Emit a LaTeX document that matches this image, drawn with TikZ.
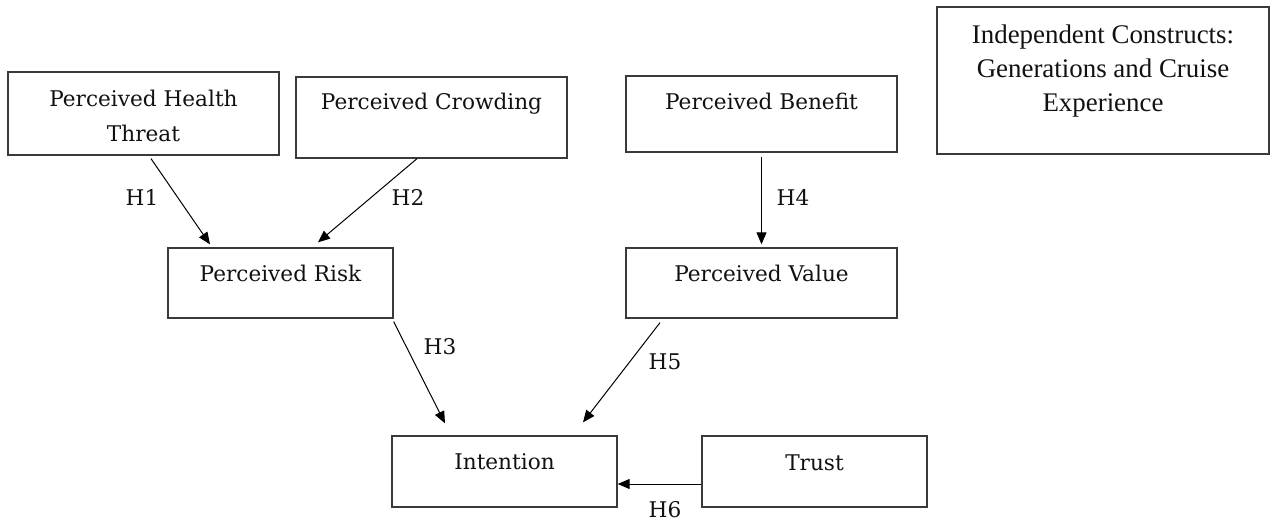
\documentclass[tikz,border=0pt]{standalone}
\usepackage{fontspec}
\setmainfont{DejaVu Serif}
\newfontfamily\timesfont{Liberation Serif}
\usetikzlibrary{arrows.meta}
\definecolor{boxgray}{HTML}{3A3A3A}
\definecolor{txt}{HTML}{111111}
\newcommand\bxt[4]{\parbox[c][#2][t]{#1}{\centering\rule{0pt}{#3}#4}}
\begin{document}
\begin{tikzpicture}[x=1bp,y=-1bp,
  box/.style={draw=boxgray, line width=1.3bp, inner sep=0pt, rectangle, text=txt,
    font=\fontsize{21.7}{35}\selectfont},
  arr/.style={draw=black, line width=1bp, -{Triangle[length=12bp,width=10bp]}},
  hlab/.style={font=\fontsize{21.7}{25}\selectfont, text=txt, inner sep=0pt}]
\useasboundingbox (0,0) rectangle (1273,521);
% boxes
\node[box] (b1) at (143.5,113.5) {\bxt{271bp}{83bp}{35bp}{Perceived Health\\Threat}};
\node[box] (b2) at (431.5,117.5) {\bxt{271bp}{81bp}{33bp}{Perceived Crowding}};
\node[box] (b3) at (761.5,114) {\bxt{271bp}{76bp}{34bp}{Perceived Benefit}};
\node[box, font=\timesfont\fontsize{27}{34}\selectfont] (ind) at (1103,80.5)
  {\bxt{332bp}{147bp}{37bp}{Independent Constructs:\\Generations and Cruise\\Experience}};
\node[box] (risk) at (280.5,283) {\bxt{225bp}{70bp}{34bp}{Perceived Risk}};
\node[box] (value) at (761.5,283) {\bxt{271bp}{70bp}{34bp}{Perceived Value}};
\node[box] (int) at (504.5,471.5) {\bxt{225bp}{71bp}{34bp}{Intention}};
\node[box] (trust) at (814.5,471.5) {\bxt{225bp}{71bp}{35bp}{Trust}};
% connectors
\draw[arr] ([xshift=7.5bp,yshift=-3bp]b1.south) -- ([xshift=-70.5bp,yshift=3bp]risk.north);
\draw[arr] ([xshift=-14.5bp]b2.south) -- ([xshift=37.5bp,yshift=5bp]risk.north);
\draw[arr] ([yshift=-3bp]risk.south east) -- ([xshift=-59.5bp,yshift=12bp]int.north);
\draw[arr] ([yshift=-4bp]b3.south) -- ([yshift=3bp]value.north);
\draw[arr] ([xshift=-101.5bp,yshift=-4bp]value.south) -- ([xshift=78.5bp,yshift=13bp]int.north);
\draw[arr] ([yshift=-12.5bp]trust.west) -- ([yshift=-12.5bp]int.east);
% labels
\node[hlab] (h1) at (142,197) {H1};
\node[hlab] (h2) at (408,197) {H2};
\node[hlab] (h3) at (440,347) {H3};
\node[hlab] (h4) at (793,197) {H4};
\node[hlab] (h5) at (665,362) {H5};
\node[hlab] (h6) at (665,510) {H6};
\end{tikzpicture}
\end{document}
